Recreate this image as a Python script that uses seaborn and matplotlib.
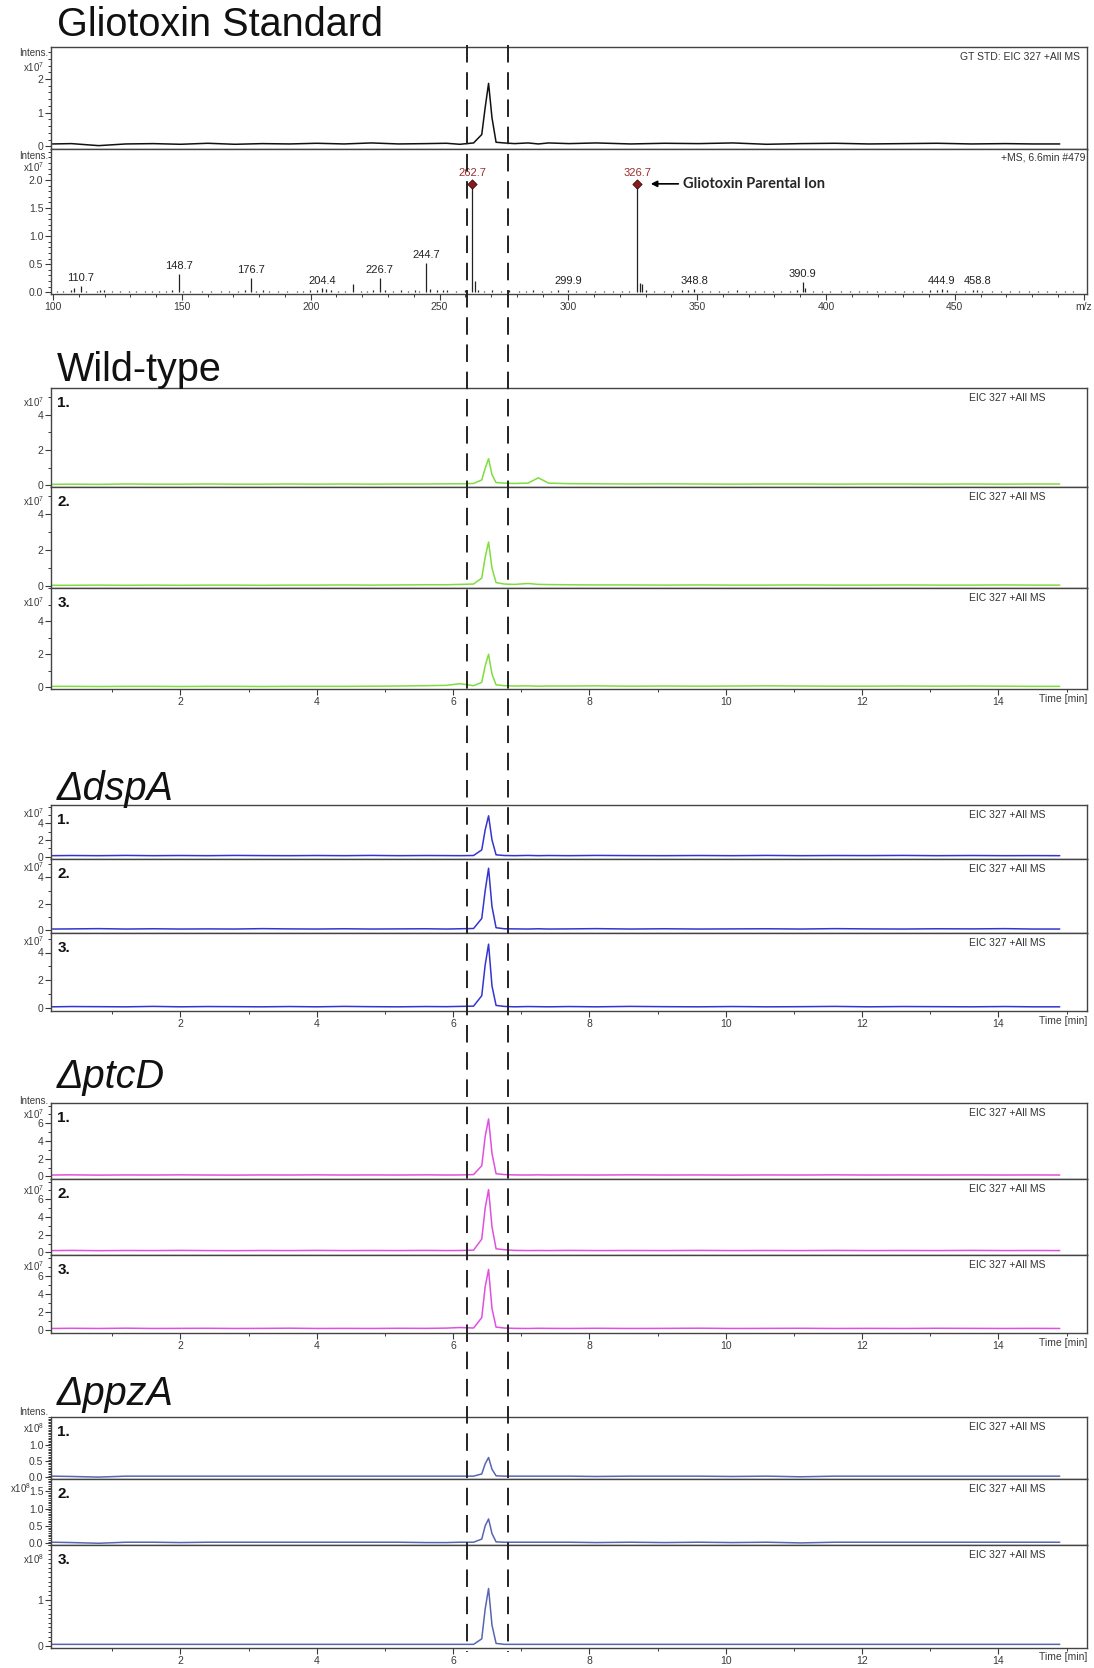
import numpy as np
import pandas as pd
import matplotlib
matplotlib.use("Agg")
import matplotlib.pyplot as plt
import seaborn as sns
from matplotlib.lines import Line2D
from matplotlib.ticker import MultipleLocator

sns.set_theme(style="ticks")
plt.rcParams['font.family'] = ['Liberation Sans', 'DejaVu Sans']
plt.rcParams['mathtext.fontset'] = 'custom'
plt.rcParams['mathtext.rm'] = 'Liberation Sans'

W, H = 1094, 1668

# ---------------- data ----------------
# retention time knots (min), shared by every EIC 327 trace
rt = [0.12, 0.4, 0.8, 1.2, 1.6, 2.0, 2.4, 2.8, 3.2, 3.6, 4.0, 4.4, 4.8, 5.2, 5.6, 5.9, 6.1, 6.3,
      6.42, 6.47, 6.52, 6.57, 6.63,
      6.75, 6.9, 7.1, 7.25, 7.4, 7.7, 8.1, 8.6, 9.1, 9.6, 10.1, 10.6, 11.1, 11.6, 12.1, 12.6, 13.1, 13.6, 14.1, 14.5, 14.9]

gt_std = [0.07, 0.08, 0.02, 0.07, 0.08, 0.06, 0.09, 0.06, 0.08, 0.07, 0.09, 0.07, 0.1, 0.07, 0.08, 0.09, 0.06, 0.1,
          0.35, 1.15, 1.87, 0.85, 0.12,
          0.1, 0.08, 0.1, 0.07, 0.1, 0.08, 0.1, 0.07, 0.09, 0.08, 0.1, 0.06, 0.08, 0.09, 0.07, 0.08, 0.09, 0.07, 0.08, 0.07, 0.07]

wt_1 = [0.05, 0.06, 0.05, 0.07, 0.06, 0.06, 0.07, 0.06, 0.06, 0.07, 0.06, 0.07, 0.06, 0.07, 0.07, 0.08, 0.08, 0.1,
        0.3, 0.95, 1.5, 0.6, 0.15,
        0.12, 0.1, 0.12, 0.42, 0.12, 0.09, 0.08, 0.07, 0.08, 0.07, 0.06, 0.07, 0.07, 0.06, 0.07, 0.07, 0.06, 0.07, 0.06, 0.07, 0.07]
wt_2 = [0.05, 0.05, 0.06, 0.05, 0.06, 0.05, 0.06, 0.06, 0.05, 0.06, 0.06, 0.07, 0.06, 0.07, 0.08, 0.08, 0.1, 0.12,
        0.45, 1.6, 2.45, 1.0, 0.2,
        0.12, 0.1, 0.15, 0.1, 0.09, 0.08, 0.07, 0.07, 0.06, 0.07, 0.06, 0.06, 0.07, 0.06, 0.06, 0.07, 0.06, 0.06, 0.07, 0.06, 0.06]
wt_3 = [0.06, 0.06, 0.05, 0.06, 0.06, 0.05, 0.06, 0.06, 0.05, 0.06, 0.06, 0.06, 0.07, 0.08, 0.1, 0.12, 0.22, 0.1,
        0.3, 1.3, 2.0, 0.8, 0.15,
        0.1, 0.08, 0.09, 0.07, 0.08, 0.08, 0.09, 0.07, 0.08, 0.07, 0.08, 0.09, 0.08, 0.07, 0.07, 0.08, 0.07, 0.08, 0.07, 0.06, 0.06]

dsp_1 = [0.1, 0.12, 0.1, 0.13, 0.1, 0.12, 0.1, 0.13, 0.11, 0.1, 0.12, 0.1, 0.13, 0.1, 0.12, 0.11, 0.1, 0.12,
         0.8, 3.2, 4.9, 2.0, 0.2,
         0.12, 0.1, 0.13, 0.1, 0.12, 0.1, 0.13, 0.11, 0.1, 0.12, 0.1, 0.13, 0.1, 0.12, 0.11, 0.13, 0.1, 0.12, 0.1, 0.11, 0.1]
dsp_2 = [0.1, 0.11, 0.13, 0.1, 0.12, 0.1, 0.11, 0.1, 0.13, 0.11, 0.1, 0.12, 0.1, 0.11, 0.12, 0.1, 0.12, 0.14,
         0.9, 3.0, 4.7, 1.8, 0.2,
         0.12, 0.11, 0.1, 0.12, 0.1, 0.11, 0.13, 0.1, 0.12, 0.1, 0.11, 0.12, 0.1, 0.13, 0.11, 0.1, 0.12, 0.11, 0.13, 0.1, 0.1]
dsp_3 = [0.1, 0.12, 0.11, 0.1, 0.13, 0.1, 0.12, 0.11, 0.1, 0.12, 0.1, 0.13, 0.11, 0.1, 0.12, 0.11, 0.13, 0.15,
         0.9, 3.1, 4.6, 1.6, 0.2,
         0.13, 0.1, 0.12, 0.11, 0.1, 0.12, 0.1, 0.13, 0.11, 0.1, 0.12, 0.1, 0.11, 0.13, 0.1, 0.12, 0.11, 0.1, 0.12, 0.1, 0.1]

ptc_1 = [0.15, 0.17, 0.14, 0.16, 0.15, 0.17, 0.15, 0.14, 0.16, 0.15, 0.17, 0.15, 0.16, 0.15, 0.17, 0.15, 0.16, 0.2,
         1.2, 4.5, 6.5, 2.6, 0.3,
         0.2, 0.16, 0.15, 0.17, 0.15, 0.16, 0.15, 0.17, 0.15, 0.16, 0.14, 0.16, 0.15, 0.17, 0.15, 0.16, 0.15, 0.16, 0.15, 0.16, 0.15]
ptc_2 = [0.2, 0.22, 0.19, 0.21, 0.2, 0.22, 0.2, 0.19, 0.21, 0.2, 0.22, 0.2, 0.21, 0.2, 0.22, 0.2, 0.21, 0.25,
         1.5, 5.0, 7.1, 2.9, 0.4,
         0.3, 0.22, 0.2, 0.21, 0.2, 0.22, 0.2, 0.21, 0.2, 0.22, 0.2, 0.21, 0.2, 0.22, 0.2, 0.21, 0.2, 0.22, 0.2, 0.21, 0.2]
ptc_3 = [0.2, 0.22, 0.2, 0.23, 0.2, 0.21, 0.22, 0.2, 0.21, 0.23, 0.2, 0.21, 0.2, 0.22, 0.21, 0.24, 0.3, 0.25,
         1.4, 4.8, 6.7, 2.4, 0.35,
         0.25, 0.21, 0.2, 0.22, 0.21, 0.2, 0.22, 0.2, 0.21, 0.23, 0.2, 0.21, 0.22, 0.2, 0.21, 0.2, 0.22, 0.21, 0.2, 0.21, 0.2]

ppz_1 = [0.03, 0.02, 0.0, 0.03, 0.03, 0.03, 0.03, 0.03, 0.03, 0.03, 0.03, 0.03, 0.03, 0.03, 0.03, 0.03, 0.03, 0.03,
         0.1, 0.42, 0.62, 0.25, 0.04,
         0.03, 0.03, 0.03, 0.03, 0.03, 0.03, 0.02, 0.03, 0.03, 0.03, 0.02, 0.03, 0.01, 0.03, 0.03, 0.03, 0.03, 0.03, 0.03, 0.03, 0.03]
ppz_2 = [0.03, 0.02, 0.0, 0.03, 0.03, 0.02, 0.03, 0.03, 0.03, 0.03, 0.03, 0.03, 0.03, 0.03, 0.02, 0.02, 0.03, 0.03,
         0.12, 0.5, 0.7, 0.28, 0.04,
         0.03, 0.03, 0.03, 0.03, 0.03, 0.03, 0.02, 0.03, 0.02, 0.03, 0.02, 0.03, 0.01, 0.03, 0.03, 0.03, 0.03, 0.03, 0.03, 0.03, 0.03]
ppz_3 = [0.03, 0.03, 0.03, 0.03, 0.03, 0.03, 0.03, 0.03, 0.03, 0.03, 0.03, 0.03, 0.03, 0.03, 0.03, 0.03, 0.03, 0.03,
         0.15, 0.8, 1.25, 0.45, 0.05,
         0.03, 0.03, 0.03, 0.03, 0.03, 0.03, 0.03, 0.03, 0.03, 0.03, 0.03, 0.03, 0.03, 0.03, 0.03, 0.03, 0.03, 0.03, 0.03, 0.03, 0.03]

# MS spectrum (+MS, 6.6 min #479), intensities x1e7
ms_mz = [101.6, 104.0, 106.8, 108.2, 110.7, 112.9, 117.1, 118.3, 119.6, 122.8,
         126.0, 129.3, 132.1, 135.7, 138.4, 141.0, 143.9, 146.2, 148.7, 150.6,
         153.2, 157.9, 161.4, 165.0, 168.3, 171.8, 174.4, 176.7, 178.9, 181.6,
         184.0, 187.2, 190.8, 194.5, 197.1, 199.8, 202.3, 204.4, 206.1, 208.0,
         210.6, 213.2, 216.5, 219.4, 221.8, 224.0, 226.7, 228.9, 232.0, 235.1,
         237.6, 240.3, 242.0, 244.7, 246.3, 248.9, 251.2, 253.0, 256.4, 259.8,
         262.7, 263.7, 265.1, 267.3, 270.2, 273.9, 277.0, 280.8, 283.5, 286.2,
         289.9, 293.4, 296.1, 299.9, 303.0, 306.8, 310.2, 314.0, 317.5, 320.8,
         323.6, 326.7, 327.7, 328.7, 330.2, 333.4, 337.0, 340.7, 344.2, 346.6,
         348.8, 351.9, 355.0, 358.3, 362.1, 365.4, 369.0, 372.5, 375.8, 379.4,
         382.7, 386.1, 388.6, 390.9, 391.9, 394.8, 398.3, 401.6, 405.9, 409.2,
         412.8, 416.1, 419.7, 423.0, 426.8, 430.2, 433.6, 437.1, 440.5, 443.0,
         444.9, 446.8, 450.6, 454.0, 456.9, 458.8, 460.7, 464.3, 468.1, 471.6,
         475.0, 478.7, 482.3, 485.9, 489.2, 492.6, 495.8]
ms_int = [0.03, 0.02, 0.04, 0.08, 0.11, 0.03, 0.02, 0.05, 0.04, 0.02,
          0.03, 0.02, 0.03, 0.02, 0.03, 0.02, 0.03, 0.04, 0.33, 0.03,
          0.02, 0.02, 0.03, 0.02, 0.03, 0.02, 0.04, 0.25, 0.03, 0.04,
          0.02, 0.03, 0.02, 0.03, 0.02, 0.04, 0.05, 0.07, 0.06, 0.04,
          0.03, 0.02, 0.14, 0.02, 0.03, 0.04, 0.25, 0.04, 0.03, 0.05,
          0.03, 0.04, 0.03, 0.52, 0.06, 0.05, 0.04, 0.05, 0.03, 0.04,
          1.93, 0.20, 0.05, 0.03, 0.04, 0.03, 0.04, 0.03, 0.02, 0.04,
          0.02, 0.03, 0.04, 0.05, 0.02, 0.03, 0.02, 0.03, 0.02, 0.03,
          0.03, 1.93, 0.17, 0.15, 0.05, 0.03, 0.02, 0.03, 0.04, 0.05,
          0.06, 0.03, 0.02, 0.03, 0.02, 0.04, 0.03, 0.02, 0.03, 0.02,
          0.03, 0.02, 0.04, 0.18, 0.08, 0.03, 0.02, 0.03, 0.02, 0.03,
          0.02, 0.03, 0.02, 0.03, 0.02, 0.03, 0.02, 0.03, 0.04, 0.05,
          0.06, 0.04, 0.02, 0.03, 0.04, 0.05, 0.03, 0.02, 0.03, 0.02,
          0.03, 0.02, 0.03, 0.02, 0.03, 0.02, 0.03]
lab_mz = [110.7, 148.7, 176.7, 204.4, 226.7, 244.7, 262.7, 299.9, 326.7, 348.8, 390.9, 444.9, 458.8]
marked_mz = [262.7, 326.7]
marked_int = [1.93, 1.93]

win_rt = [6.2, 6.8]  # dashed retention window

# ---------------- layout helpers ----------------
L, R = 51, 1087
XMIN, XMAX = 0.1, 15.3
TICK_C = '#3a3a3a'
fig = plt.figure(figsize=(W / 100, H / 100), dpi=100)


def add_ax(top, bottom):
    return fig.add_axes([L / W, 1 - bottom / H, (R - L) / W, (bottom - top) / H])


def ftext(x, y, s, **kw):
    fig.text(x / W, 1 - y / H, s, **kw)


def style(ax):
    for s in ax.spines.values():
        s.set_color('#444444')
        s.set_linewidth(1.0)
    ax.tick_params(axis='both', which='major', direction='out', length=4, width=0.8,
                   color=TICK_C, labelsize=7.5, labelcolor=TICK_C, pad=1.5)
    ax.tick_params(axis='both', which='minor', direction='out', length=2, width=0.7, color=TICK_C)
    ax.set_xlabel('')
    ax.set_ylabel('')


def eic(top, bottom, vals, color, ylim, yticks, yminor, num, exp, exp_dy=14,
        label='EIC 327 +All MS', xaxis=False, fmt='{:g}', intens_dy=None, exp_x=44):
    ax = add_ax(top, bottom)
    df = pd.DataFrame({'rt': rt, 'intensity': vals})
    sns.lineplot(data=df, x='rt', y='intensity', color=color, lw=1.1, ax=ax)
    ax.set_xlim(XMIN, XMAX)
    ax.set_ylim(*ylim)
    ax.set_yticks(yticks)
    ax.set_yticklabels([fmt.format(v) for v in yticks])
    ax.yaxis.set_minor_locator(MultipleLocator(yminor))
    style(ax)
    if xaxis:
        ax.set_xticks([2, 4, 6, 8, 10, 12, 14])
        ax.xaxis.set_minor_locator(MultipleLocator(1))
        ax.text(1.0, -4.5 / (bottom - top), 'Time [min]', transform=ax.transAxes,
                ha='right', va='top', fontsize=7.5, color=TICK_C)
    else:
        ax.set_xticks([])
        ax.tick_params(axis='x', which='both', length=0)
    ax.text(0.96, 1 - 10 / (bottom - top), label, transform=ax.transAxes,
            ha='right', va='center', fontsize=7.5, color='#333333')
    if num:
        ax.text(0.006, 1 - 15 / (bottom - top), num, transform=ax.transAxes,
                ha='left', va='center', fontsize=11, fontweight='bold', color='#111111')
    ftext(exp_x, top + exp_dy, exp, ha='right', va='center', fontsize=7, color=TICK_C)
    if intens_dy is not None:
        ftext(48, top + intens_dy, 'Intens.', ha='right', va='center', fontsize=7, color=TICK_C)
    return ax


def title(y, s, italic=False):
    ftext(57, y, s, ha='left', va='baseline', fontsize=28.5,
          style='italic' if italic else 'normal', color='#111111')


E7 = r'x10$^7$'
E8 = r'x10$^8$'

# ---------------- Gliotoxin standard ----------------
title(36, 'Gliotoxin Standard')
ax_gt = eic(47, 149, gt_std, '#111111', (-0.08, 2.95), [0, 1, 2], 0.2, None, E7, exp_dy=20,
            label='GT STD: EIC 327 +All MS', intens_dy=6)
ax_gt.texts[-1].set_x(0.993)

ax_ms = add_ax(149, 294)
ax_ms.vlines(ms_mz, 0, ms_int, color='#222222', lw=0.9)
sns.scatterplot(x=marked_mz, y=marked_int, marker='D', s=22, color='#8b1a1a',
                edgecolor='#3b0a0a', linewidth=0.6, ax=ax_ms, zorder=5)
ax_ms.set_xlim(99.2, 501.3)
ax_ms.set_ylim(-0.03, 2.55)
ax_ms.set_yticks([0, 0.5, 1.0, 1.5, 2.0])
ax_ms.set_yticklabels(['0.0', '0.5', '1.0', '1.5', '2.0'])
ax_ms.yaxis.set_minor_locator(MultipleLocator(0.1))
ax_ms.set_xticks([100, 150, 200, 250, 300, 350, 400, 450, 500])
ax_ms.set_xticklabels(['100', '150', '200', '250', '300', '350', '400', '450', 'm/z'])
ax_ms.xaxis.set_minor_locator(MultipleLocator(10))
style(ax_ms)
for mz in lab_mz:
    h = ms_int[ms_mz.index(mz)]
    red = mz in marked_mz
    ax_ms.text(mz, max(h, 0.07) + (0.1 if red else 0.05), f'{mz}', ha='center', va='bottom',
               fontsize=8, color='#9b2d2d' if red else '#222222')
ax_ms.annotate('Gliotoxin Parental Ion', xy=(332.0, 1.93), xytext=(344.5, 1.93),
               ha='left', va='center', fontsize=10.5, fontweight='bold', family=['Lato', 'DejaVu Sans'],
               arrowprops=dict(arrowstyle='-|>', color='black', lw=1.2, mutation_scale=9,
                               shrinkA=1, shrinkB=0))
ax_ms.text(0.999, 1 - 8 / 145, '+MS, 6.6min #479', transform=ax_ms.transAxes,
           ha='right', va='center', fontsize=7.5, color='#333333')
ftext(48, 156, 'Intens.', ha='right', va='center', fontsize=7, color=TICK_C)
ftext(44, 167, E7, ha='right', va='center', fontsize=7, color=TICK_C)

# ---------------- Wild-type ----------------
GREEN = '#7fde3e'
title(381, 'Wild-type')
eic(388, 487, wt_1, GREEN, (-0.1, 5.5), [0, 2, 4], 1, '1.', E7)
eic(487, 588, wt_2, GREEN, (-0.1, 5.5), [0, 2, 4], 1, '2.', E7)
eic(588, 689, wt_3, GREEN, (-0.1, 6.0), [0, 2, 4], 1, '3.', E7, xaxis=True)

# ---------------- dspA ----------------
BLUE = '#3434d0'
title(800, '\u0394dspA', italic=True)
eic(805, 859, dsp_1, BLUE, (-0.3, 6.2), [0, 2, 4], 1, '1.', E7, exp_dy=8)
eic(859, 933, dsp_2, BLUE, (-0.2, 5.4), [0, 2, 4], 1, '2.', E7, exp_dy=8)
eic(933, 1011, dsp_3, BLUE, (-0.2, 5.4), [0, 2, 4], 1, '3.', E7, exp_dy=8, xaxis=True)

# ---------------- ptcD ----------------
MAGENTA = '#e050e0'
title(1088, '\u0394ptcD', italic=True)
eic(1103, 1179, ptc_1, MAGENTA, (-0.3, 8.3), [0, 2, 4, 6], 1, '1.', E7, exp_dy=11, intens_dy=-2)
eic(1179, 1255, ptc_2, MAGENTA, (-0.3, 8.3), [0, 2, 4, 6], 1, '2.', E7, exp_dy=11)
eic(1255, 1333, ptc_3, MAGENTA, (-0.3, 8.3), [0, 2, 4, 6], 1, '3.', E7, exp_dy=11, xaxis=True)

# ---------------- ppzA ----------------
SLATE = '#5866b2'
title(1405, '\u0394ppzA', italic=True)
eic(1417, 1479, ppz_1, SLATE, (-0.06, 1.9), [0, 0.5, 1.0], 0.05, '1.', E8, exp_dy=11,
    fmt='{:.1f}', intens_dy=-5)
eic(1479, 1545, ppz_2, SLATE, (-0.05, 1.85), [0, 0.5, 1.0, 1.5], 0.05, '2.', E8, exp_dy=9,
    fmt='{:.1f}', exp_x=31)
ax_last = eic(1545, 1648, ppz_3, SLATE, (-0.05, 2.2), [0, 1], 0.1, '3.', E8, exp_dy=14, xaxis=True)

# ---------------- dashed retention window ----------------
to_fig = fig.transFigure.inverted()
for t in win_rt:
    xf = to_fig.transform(ax_last.transData.transform((t, 0)))[0]
    fig.add_artist(Line2D([xf, xf], [1 - 45 / H, 1 - 1652 / H], transform=fig.transFigure,
                          color='#222222', lw=1.4, dashes=(9, 5), zorder=10))

fig.savefig('out.png', dpi=100)
